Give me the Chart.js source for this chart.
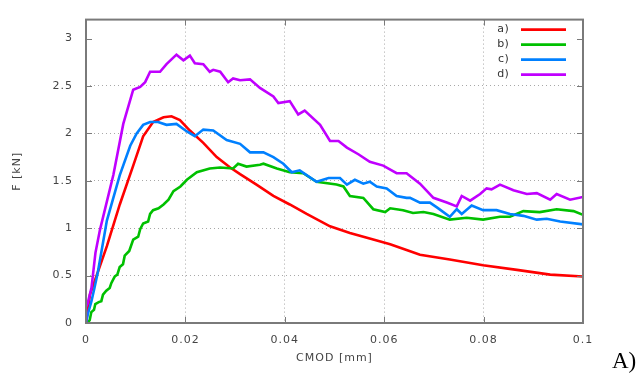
<!DOCTYPE html>
<html><head><meta charset="utf-8">
<script src="https://cdn.jsdelivr.net/npm/chart.js@4/dist/chart.umd.min.js"></script>
<style>html,body{margin:0;padding:0;background:#fff;overflow:hidden}</style>
</head><body>
<div style="position:relative;width:638px;height:376px"><canvas id="c" width="638" height="376"></canvas></div>
<script>
// ---- data (CMOD in mm, F in kN) ----
const seriesLabels = ['a)', 'b)', 'c)', 'd)'];
const xTicks = [0, 0.02, 0.04, 0.06, 0.08, 0.1];
const yTicks = [0, 0.5, 1, 1.5, 2, 2.5, 3];
const xTitle = 'CMOD [mm]';
const yTitle = 'F [kN]';
const panelLabel = 'A)';

const aX = [0, 0.0008, 0.0042, 0.0068, 0.0095, 0.0115, 0.0135, 0.0156, 0.0172, 0.0189, 0.0209, 0.0236, 0.0263, 0.029, 0.031, 0.0343, 0.0377, 0.041, 0.0444, 0.0491, 0.0531, 0.0578, 0.0612, 0.0645, 0.0672, 0.0732, 0.0799, 0.0867, 0.0934, 0.1];
const aY = [0, 0.30, 0.81, 1.25, 1.66, 1.97, 2.12, 2.17, 2.18, 2.14, 2.03, 1.90, 1.75, 1.64, 1.57, 1.46, 1.34, 1.25, 1.15, 1.02, 0.95, 0.88, 0.83, 0.77, 0.72, 0.67, 0.61, 0.56, 0.51, 0.49];

const bX = [0.0003, 0.00074, 0.00107, 0.00161, 0.00187, 0.00256, 0.00308, 0.00342, 0.00408, 0.00477, 0.00509, 0.00577, 0.0063, 0.00678, 0.00744, 0.00779, 0.0087, 0.0095, 0.0105, 0.0109, 0.0115, 0.0125, 0.0129, 0.0135, 0.0146, 0.0156, 0.0166, 0.0176, 0.0190, 0.0203, 0.0223, 0.0249, 0.027, 0.0296, 0.0306, 0.0323, 0.035, 0.0357, 0.0384, 0.041, 0.0437, 0.0464, 0.0504, 0.0518, 0.0531, 0.0558, 0.0578, 0.0602, 0.0612, 0.0638, 0.0658, 0.0679, 0.0699, 0.0732, 0.0766, 0.0799, 0.0833, 0.0853, 0.088, 0.0913, 0.0947, 0.0981, 0.1];
const bY = [0, 0.03, 0.115, 0.14, 0.20, 0.22, 0.23, 0.30, 0.34, 0.37, 0.42, 0.49, 0.51, 0.59, 0.62, 0.71, 0.76, 0.88, 0.91, 0.99, 1.05, 1.07, 1.15, 1.19, 1.21, 1.25, 1.30, 1.39, 1.44, 1.51, 1.59, 1.63, 1.64, 1.63, 1.68, 1.65, 1.67, 1.68, 1.63, 1.59, 1.58, 1.49, 1.46, 1.44, 1.34, 1.32, 1.20, 1.17, 1.21, 1.19, 1.16, 1.17, 1.15, 1.09, 1.11, 1.09, 1.12, 1.12, 1.18, 1.17, 1.20, 1.18, 1.14];

const cX = [0, 0.0004, 0.0011, 0.0017, 0.0024, 0.0042, 0.0068, 0.0089, 0.0102, 0.0115, 0.0129, 0.0145, 0.0162, 0.0182, 0.0203, 0.0219, 0.0236, 0.0256, 0.0283, 0.031, 0.033, 0.0357, 0.0377, 0.0397, 0.0414, 0.043, 0.0464, 0.0488, 0.0511, 0.0525, 0.0541, 0.0558, 0.0571, 0.0585, 0.0605, 0.0625, 0.0645, 0.0652, 0.0672, 0.0692, 0.0706, 0.0732, 0.0746, 0.0756, 0.0776, 0.0799, 0.0826, 0.0853, 0.088, 0.0907, 0.0927, 0.0954, 0.1];
const cY = [0, 0.10, 0.23, 0.37, 0.54, 1.08, 1.56, 1.87, 2.00, 2.09, 2.12, 2.12, 2.09, 2.10, 2.02, 1.97, 2.04, 2.03, 1.93, 1.89, 1.80, 1.80, 1.75, 1.68, 1.59, 1.61, 1.49, 1.53, 1.53, 1.46, 1.51, 1.47, 1.49, 1.44, 1.42, 1.34, 1.32, 1.32, 1.27, 1.27, 1.22, 1.12, 1.20, 1.15, 1.24, 1.19, 1.19, 1.15, 1.13, 1.09, 1.10, 1.07, 1.04];

const dX = [0, 0, 0.0003, 0.0011, 0.0019, 0.0028, 0.0055, 0.0075, 0.0095, 0.0109, 0.0119, 0.0129, 0.0149, 0.0162, 0.0182, 0.0196, 0.0209, 0.0219, 0.0236, 0.0249, 0.0256, 0.027, 0.0286, 0.0296, 0.031, 0.033, 0.035, 0.0377, 0.0387, 0.041, 0.0427, 0.044, 0.0471, 0.0491, 0.0508, 0.0525, 0.0548, 0.0571, 0.0598, 0.0625, 0.0645, 0.0672, 0.0699, 0.0726, 0.0746, 0.0756, 0.0773, 0.0793, 0.0806, 0.0816, 0.0833, 0.086, 0.0887, 0.0907, 0.0934, 0.0947, 0.0974, 0.1];
const dY = [0, 0.17, 0.20, 0.37, 0.74, 0.98, 1.56, 2.10, 2.46, 2.49, 2.54, 2.65, 2.65, 2.73, 2.83, 2.77, 2.82, 2.74, 2.73, 2.65, 2.67, 2.65, 2.54, 2.58, 2.56, 2.57, 2.48, 2.39, 2.32, 2.34, 2.20, 2.24, 2.09, 1.92, 1.92, 1.85, 1.78, 1.70, 1.66, 1.58, 1.58, 1.47, 1.32, 1.27, 1.23, 1.34, 1.29, 1.36, 1.42, 1.41, 1.46, 1.40, 1.36, 1.37, 1.30, 1.36, 1.30, 1.33];

// ---- styles ----
const colors = ['#ff0000', '#00c000', '#0080ff', '#c000ff'];
const textColor = '#444444';
const fontFamily = '"DejaVu Sans", sans-serif';

const pairs = (xs, ys) => xs.map((x, i) => ({x: x, y: ys[i]}));
const seriesData = [pairs(aX, aY), pairs(bX, bY), pairs(cX, cY), pairs(dX, dY)];

const spacingPlugin = {
  id: 'spacing',
  beforeUpdate(chart) { chart.ctx.letterSpacing = '1px'; },
  beforeDraw(chart) { chart.ctx.letterSpacing = '1px'; }
};

const framePlugin = {
  id: 'frame',
  afterDraw(chart) {
    const {ctx, chartArea: a, scales} = chart;
    ctx.save();
    ctx.strokeStyle = '#7a7a7a';
    ctx.lineWidth = 1;
    ctx.beginPath();
    yTicks.forEach(v => {
      const y = Math.round(scales.y.getPixelForValue(v)) + 0.5;
      ctx.moveTo(a.left, y); ctx.lineTo(a.left + 6, y);
      ctx.moveTo(a.right, y); ctx.lineTo(a.right - 6, y);
    });
    xTicks.forEach(v => {
      const x = Math.round(scales.x.getPixelForValue(v)) + 0.5;
      ctx.moveTo(x, a.bottom); ctx.lineTo(x, a.bottom - 6);
      ctx.moveTo(x, a.top); ctx.lineTo(x, a.top + 6);
    });
    ctx.stroke();
    ctx.lineWidth = 2;
    ctx.strokeStyle = '#7a7a7a';
    ctx.strokeRect(a.left, a.top, a.right - a.left, a.bottom - a.top);
    // legend
    ctx.letterSpacing = '0.3px';
    ctx.font = '11px ' + fontFamily;
    ctx.textAlign = 'right';
    ctx.textBaseline = 'middle';
    seriesLabels.forEach((lab, i) => {
      const y = a.top + 10 + i * 15;
      ctx.fillStyle = '#333333';
      ctx.fillText(lab, a.right - 74, y);
      ctx.strokeStyle = colors[i];
      ctx.lineWidth = 2.6;
      ctx.beginPath();
      ctx.moveTo(a.right - 62, y); ctx.lineTo(a.right - 17, y);
      ctx.stroke();
    });
    // panel label
    ctx.letterSpacing = '0px';
    ctx.fillStyle = '#000000';
    ctx.font = '23px "Liberation Serif", serif';
    ctx.textAlign = 'left';
    ctx.textBaseline = 'alphabetic';
    ctx.fillText(panelLabel, a.right + 29, chart.height - 8);
    ctx.restore();
  }
};

const fmt = v => String(+Number(v).toFixed(3));
const gridColor = (ticks) => (ctx) => {
  const v = ctx.tick ? ctx.tick.value : null;
  if (v === null || v === ticks[0] || v === ticks[ticks.length - 1]) return 'rgba(0,0,0,0)';
  return '#a8a8a8';
};

new Chart(document.getElementById('c'), {
  type: 'scatter',
  data: {
    datasets: seriesData.map((d, i) => ({
      label: seriesLabels[i],
      data: d,
      showLine: true,
      borderColor: colors[i],
      backgroundColor: colors[i],
      borderWidth: 2.6,
      pointRadius: 0,
      tension: 0,
      fill: false,
      order: 4 - i
    }))
  },
  options: {
    responsive: false,
    animation: false,
    devicePixelRatio: 1,
    layout: {padding: {left: 0, right: 55, top: 9, bottom: 0}},
    plugins: {legend: {display: false}, tooltip: {enabled: false}},
    scales: {
      x: {
        type: 'linear', min: 0, max: 0.1,
        afterBuildTicks: s => { s.ticks = xTicks.map(v => ({value: v})); },
        afterFit: s => { s.height = 53; },
        ticks: {callback: v => fmt(v), color: textColor, font: {family: fontFamily, size: 11}, padding: 11, maxRotation: 0, autoSkip: false},
        grid: {color: gridColor(xTicks), drawTicks: false, lineWidth: 1},
        border: {display: false, dash: [1, 3]},
        title: {display: true, text: xTitle, color: textColor, font: {family: fontFamily, size: 11}, padding: {top: 0, bottom: 11}}
      },
      y: {
        type: 'linear', min: 0, max: 3.2,
        afterBuildTicks: s => { s.ticks = yTicks.map(v => ({value: v})); },
        afterFit: s => { s.width = 86; },
        ticks: {callback: v => fmt(v), color: textColor, font: {family: fontFamily, size: 11}, padding: 13, autoSkip: false},
        grid: {color: gridColor(yTicks), drawTicks: false, lineWidth: 1},
        border: {display: false, dash: [1, 3]},
        title: {display: true, text: yTitle, color: textColor, font: {family: fontFamily, size: 11}, padding: {top: 11, bottom: 0}}
      }
    }
  },
  plugins: [spacingPlugin, framePlugin]
});
</script>
</body></html>
